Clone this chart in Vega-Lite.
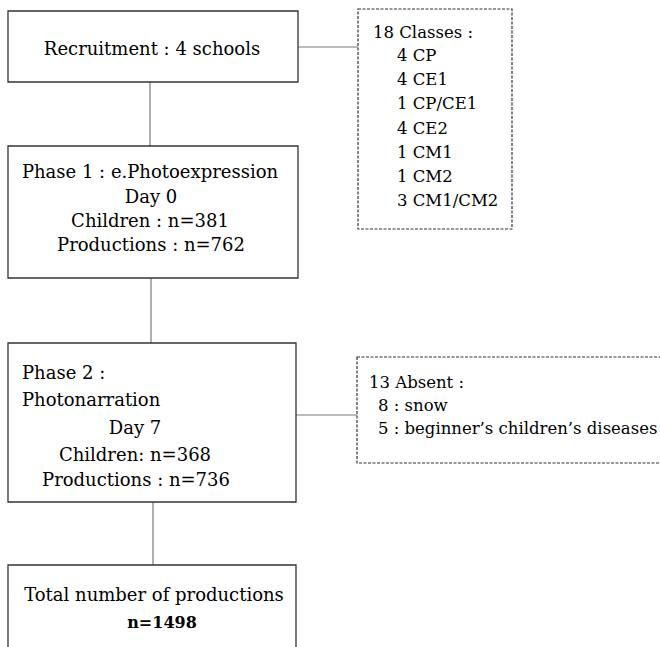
{
  "$schema": "https://vega.github.io/schema/vega-lite/v6.json",
  "width": 660,
  "height": 647,
  "autosize": {"type": "none"},
  "padding": 0,
  "background": "white",
  "config": {"view": {"stroke": null}, "text": {"font": "DejaVu Serif"}},
  "datasets": {
    "boxes": [
      {"id": "b1", "x": 8, "x2": 298, "y": 11, "y2": 82, "style": "solid"},
      {"id": "b2", "x": 8, "x2": 298, "y": 146, "y2": 278, "style": "solid"},
      {"id": "b3", "x": 8, "x2": 296, "y": 343, "y2": 502, "style": "solid"},
      {"id": "b4", "x": 8, "x2": 296, "y": 565, "y2": 680, "style": "solid"},
      {"id": "d1", "x": 358, "x2": 512, "y": 9, "y2": 229, "style": "dashed"},
      {"id": "d2", "x": 357, "x2": 680, "y": 357, "y2": 463, "style": "dashed"}
    ],
    "links": [
      {"x": 150, "x2": 150, "y": 82, "y2": 146},
      {"x": 151, "x2": 151, "y": 278, "y2": 343},
      {"x": 153, "x2": 153, "y": 502, "y2": 565},
      {"x": 298, "x2": 358, "y": 47, "y2": 47},
      {"x": 296, "x2": 357, "y": 415, "y2": 415}
    ],
    "labels": [
      {"text": "Recruitment : 4 schools", "x": 152, "y": 49, "box": "main", "pos": "center", "weight": "normal"},
      {"text": "Phase 1 : e.Photoexpression", "x": 150, "y": 172, "box": "main", "pos": "center", "weight": "normal"},
      {"text": "Day 0", "x": 151, "y": 197, "box": "main", "pos": "center", "weight": "normal"},
      {"text": "Children : n=381", "x": 150, "y": 221, "box": "main", "pos": "center", "weight": "normal"},
      {"text": "Productions : n=762", "x": 151, "y": 245, "box": "main", "pos": "center", "weight": "normal"},
      {"text": "Phase 2 :", "x": 22, "y": 373, "box": "main", "pos": "left", "weight": "normal"},
      {"text": "Photonarration", "x": 22, "y": 400, "box": "main", "pos": "left", "weight": "normal"},
      {"text": "Day 7", "x": 135, "y": 428, "box": "main", "pos": "center", "weight": "normal"},
      {"text": "Children: n=368", "x": 135, "y": 455, "box": "main", "pos": "center", "weight": "normal"},
      {"text": "Productions : n=736", "x": 136, "y": 480, "box": "main", "pos": "center", "weight": "normal"},
      {"text": "Total number of productions", "x": 154, "y": 595, "box": "main", "pos": "center", "weight": "normal"},
      {"text": "n=1498", "x": 162, "y": 622, "box": "main", "pos": "center", "weight": "bold"},
      {"text": "18 Classes :", "x": 373, "y": 32, "box": "side", "pos": "left", "weight": "normal"},
      {"text": "4 CP", "x": 397, "y": 55, "box": "side", "pos": "left", "weight": "normal"},
      {"text": "4 CE1", "x": 397, "y": 79, "box": "side", "pos": "left", "weight": "normal"},
      {"text": "1 CP/CE1", "x": 397, "y": 103, "box": "side", "pos": "left", "weight": "normal"},
      {"text": "4 CE2", "x": 397, "y": 128, "box": "side", "pos": "left", "weight": "normal"},
      {"text": "1 CM1", "x": 397, "y": 152, "box": "side", "pos": "left", "weight": "normal"},
      {"text": "1 CM2", "x": 397, "y": 176, "box": "side", "pos": "left", "weight": "normal"},
      {"text": "3 CM1/CM2", "x": 397, "y": 200, "box": "side", "pos": "left", "weight": "normal"},
      {"text": "13 Absent :", "x": 369, "y": 382, "box": "side", "pos": "left", "weight": "normal"},
      {"text": "8 : snow", "x": 378, "y": 405, "box": "side", "pos": "left", "weight": "normal"},
      {"text": "5 : beginner’s children’s diseases", "x": 378, "y": 428, "box": "side", "pos": "left", "weight": "normal"}
    ]
  },
  "encoding": {
    "x": {"field": "x", "type": "quantitative", "scale": {"domain": [0, 660], "nice": false, "zero": false}, "axis": null},
    "y": {"field": "y", "type": "quantitative", "scale": {"domain": [0, 647], "nice": false, "zero": false, "reverse": true}, "axis": null}
  },
  "layer": [
    {
      "data": {"name": "links"},
      "mark": {"type": "rule", "stroke": "#7a7a7a", "strokeWidth": 1.2},
      "encoding": {"x2": {"field": "x2"}, "y2": {"field": "y2"}}
    },
    {
      "data": {"name": "boxes"},
      "transform": [{"filter": "datum.style === 'solid'"}],
      "mark": {"type": "rect", "fill": "white", "stroke": "#333333", "strokeWidth": 1.3, "clip": true},
      "encoding": {"x2": {"field": "x2"}, "y2": {"field": "y2"}}
    },
    {
      "data": {"name": "boxes"},
      "transform": [{"filter": "datum.style === 'dashed'"}],
      "mark": {"type": "rect", "fill": "white", "stroke": "#333333", "strokeWidth": 1.2, "strokeDash": [3, 1.5], "clip": true},
      "encoding": {"x2": {"field": "x2"}, "y2": {"field": "y2"}}
    },
    {
      "data": {"name": "labels"},
      "transform": [{"filter": "datum.box === 'main' && datum.pos === 'center' && datum.weight === 'normal'"}],
      "mark": {"type": "text", "font": "DejaVu Serif", "fontSize": 18, "align": "center", "baseline": "middle", "dy": 1, "color": "#000000"},
      "encoding": {"text": {"field": "text"}}
    },
    {
      "data": {"name": "labels"},
      "transform": [{"filter": "datum.box === 'main' && datum.pos === 'left'"}],
      "mark": {"type": "text", "font": "DejaVu Serif", "fontSize": 18, "align": "left", "baseline": "middle", "dy": 1, "color": "#000000"},
      "encoding": {"text": {"field": "text"}}
    },
    {
      "data": {"name": "labels"},
      "transform": [{"filter": "datum.weight === 'bold'"}],
      "mark": {"type": "text", "font": "DejaVu Serif", "fontSize": 16, "fontWeight": "bold", "align": "center", "baseline": "middle", "dy": 1, "color": "#000000"},
      "encoding": {"text": {"field": "text"}}
    },
    {
      "data": {"name": "labels"},
      "transform": [{"filter": "datum.box === 'side'"}],
      "mark": {"type": "text", "font": "DejaVu Serif", "fontSize": 16.5, "align": "left", "baseline": "middle", "dy": 1, "color": "#000000"},
      "encoding": {"text": {"field": "text"}}
    }
  ]
}
